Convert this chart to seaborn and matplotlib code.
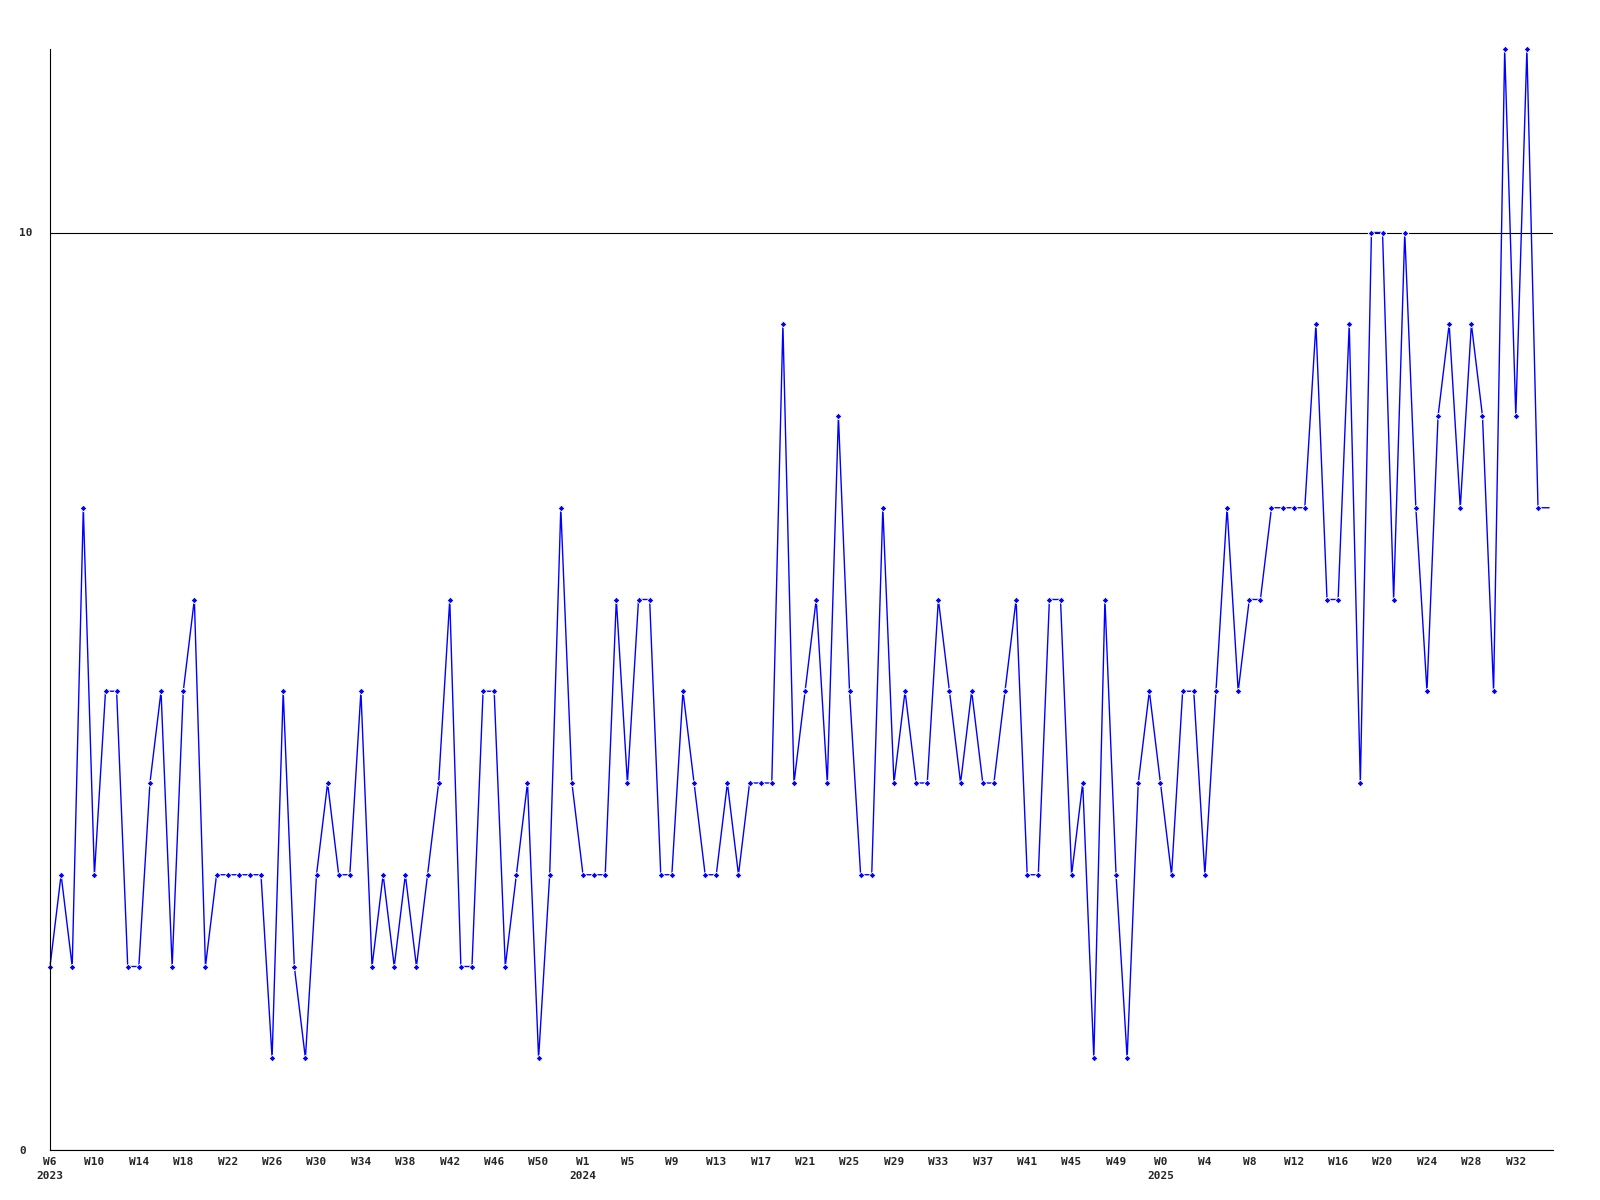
import matplotlib
matplotlib.use("Agg")
import matplotlib.pyplot as plt
import seaborn as sns
import pandas as pd

# weekly counts, W6 2023 .. W33 2025 (last value is the running week, drawn without marker)
counts = [
    2, 3, 2, 7, 3, 5, 5, 2, 2, 4, 5, 2, 5, 6, 2, 3, 3, 3, 3, 3,
    1, 5, 2, 1, 3, 4, 3, 3, 5, 2, 3, 2, 3, 2, 3, 4, 6, 2, 2, 5,
    5, 2, 3, 4, 1, 3, 7, 4, 3, 3, 3, 6, 4, 6, 6, 3, 3, 5, 4, 3,
    3, 4, 3, 4, 4, 4, 9, 4, 5, 6, 4, 8, 5, 3, 3, 7, 4, 5, 4, 4,
    6, 5, 4, 5, 4, 4, 5, 6, 3, 3, 6, 6, 3, 4, 1, 6, 3, 1, 4, 5,
    4, 3, 5, 5, 3, 5, 7, 5, 6, 6, 7, 7, 7, 7, 9, 6, 6, 9, 4, 10,
    10, 6, 10, 7, 5, 8, 9, 7, 9, 8, 5, 12, 8, 12, 7, 7,
]

week_labels = (
    [f"W{w}" for w in range(6, 51, 4)]
    + [f"W{w}" for w in range(1, 50, 4)]
    + [f"W{w}" for w in range(0, 33, 4)]
)
year_labels = {"W6": "2023", "W1": "2024", "W0": "2025"}
y_ticks = [0, 10]

df = pd.DataFrame({"week": range(len(counts)), "count": counts})

sns.set_style("white")
plt.rcParams["font.family"] = ["DejaVu Sans Mono", "DejaVu Sans"]

fig = plt.figure(figsize=(16, 12), dpi=100)
ax = fig.add_axes([50 / 1600, 50 / 1200, 1503 / 1600, 1101 / 1200])

sns.lineplot(
    data=df, x="week", y="count", ax=ax,
    color="#0000ff", linewidth=1.0,
    marker="D", markersize=3.4, markeredgewidth=0.6,
    markevery=list(range(len(counts) - 1)),
    clip_on=False,
)

ax.set_xlim(0, 135.35)
ax.set_ylim(0, 12)

tick_pos = list(range(0, 4 * len(week_labels), 4))
tick_txt = [
    f"{w}\n{year_labels[w]}" if w in year_labels and i in (0, 12, 25) else w
    for i, w in enumerate(week_labels)
]
ax.set_xticks(tick_pos)
ax.set_xticklabels(tick_txt, fontsize=8, fontweight="bold", linespacing=1.45)
ax.set_yticks(y_ticks)
ax.set_yticklabels([str(t) for t in y_ticks], fontsize=8, fontweight="bold", ha="left")

ax.tick_params(axis="x", length=0, pad=5)
ax.tick_params(axis="y", length=0, pad=22)

ax.grid(axis="y", color="black", linewidth=0.8)
ax.grid(axis="x", visible=False)
ax.set_axisbelow(True)

sns.despine(ax=ax, top=True, right=True)
for side in ("left", "bottom"):
    ax.spines[side].set_color("black")
    ax.spines[side].set_linewidth(0.8)

ax.set_xlabel("")
ax.set_ylabel("")

fig.savefig("out.png", dpi=100)
